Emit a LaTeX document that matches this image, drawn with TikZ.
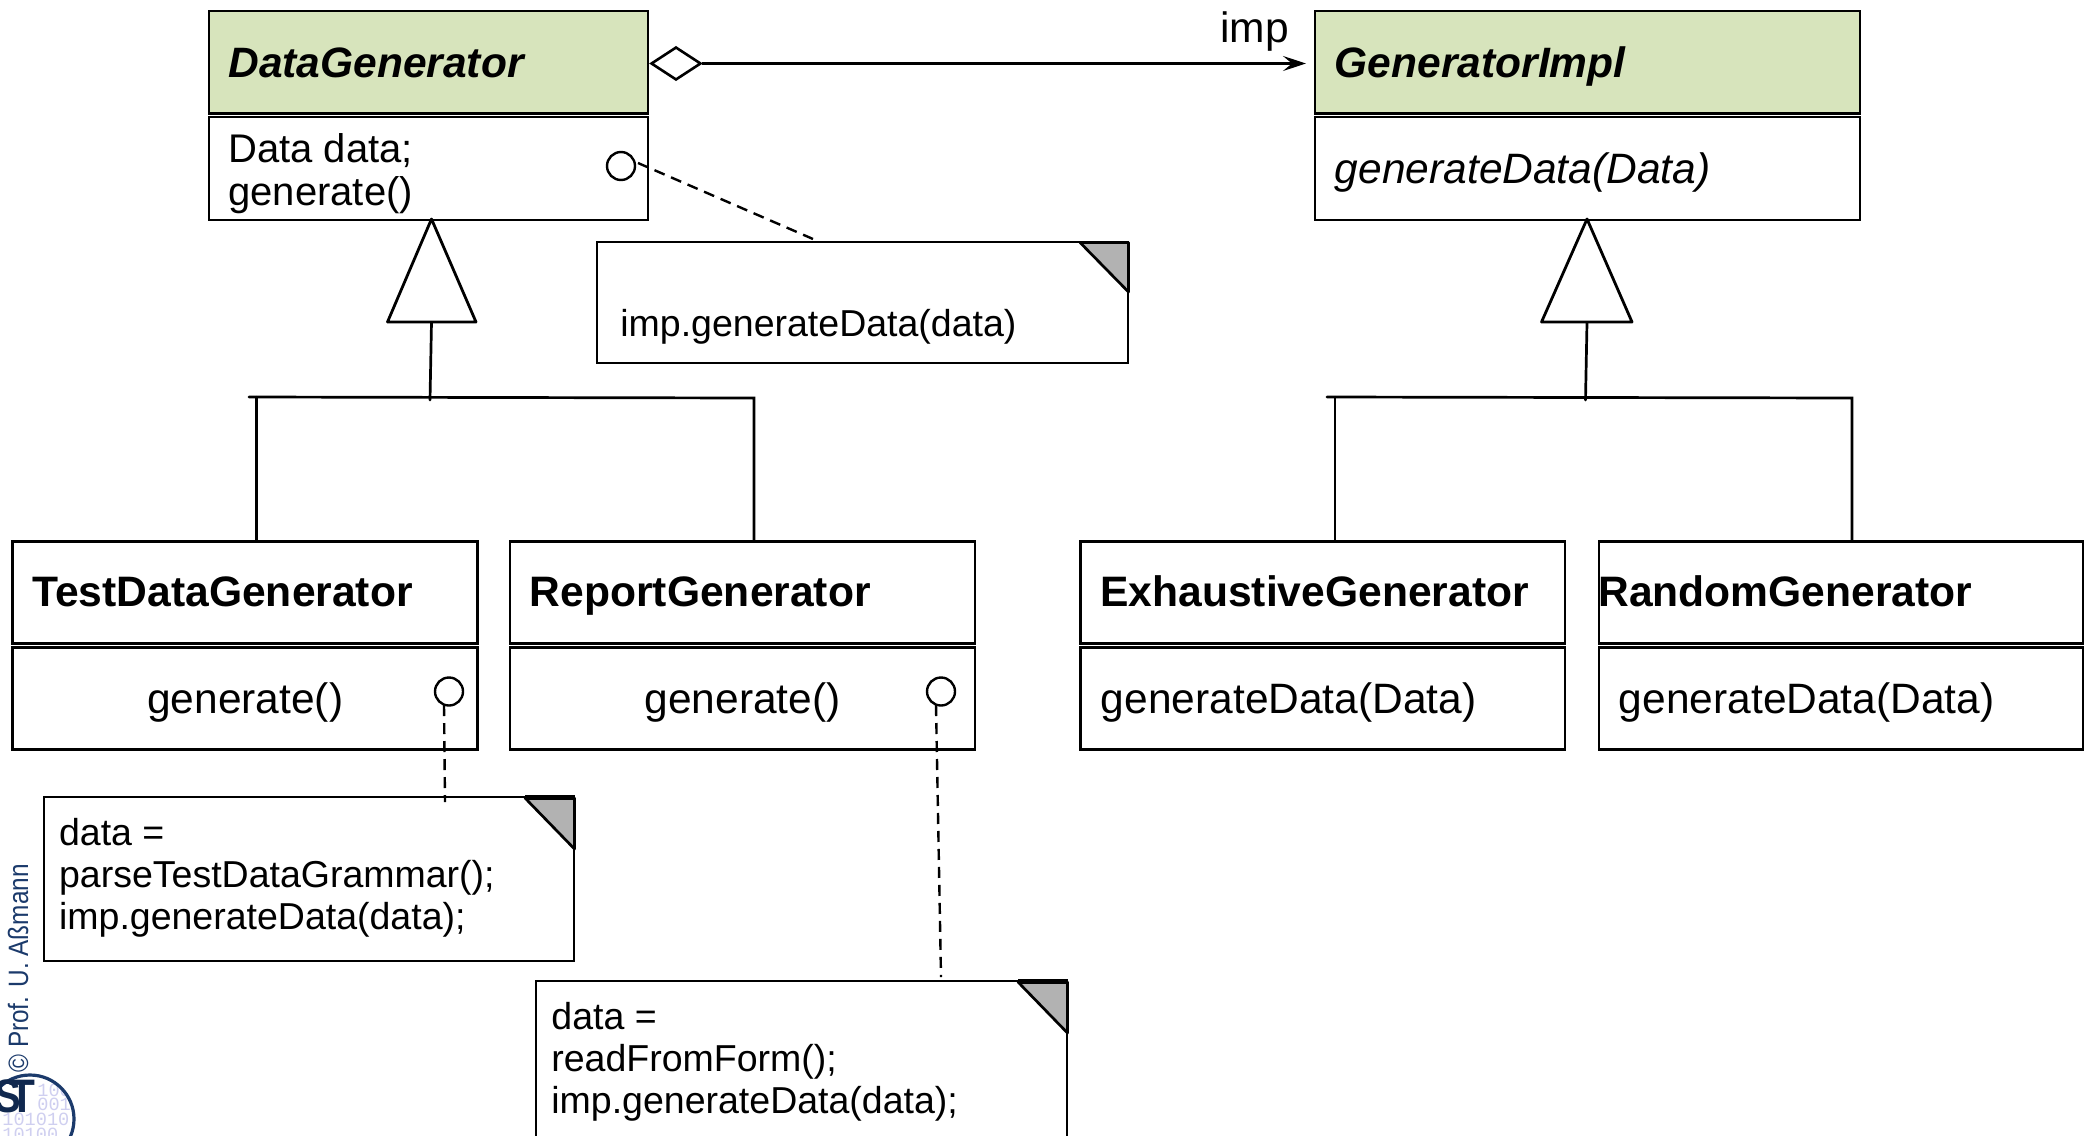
\documentclass[tikz,border=0pt]{standalone}
\usepackage{fontspec}
\usepackage{graphicx}
\setmainfont{Liberation Sans}
\newfontfamily\digitsfont{Liberation Mono}
\usetikzlibrary{shapes.geometric,arrows.meta}
\definecolor{hdrgreen}{HTML}{D7E4BC}
\definecolor{foldgrey}{HTML}{B2B2B2}
\definecolor{stblue}{HTML}{1B3A6B}
\definecolor{stdark}{HTML}{10284F}
\definecolor{stdigit}{HTML}{CFCFF0}
\tikzset{
  cbox/.style={draw=black,line width=1.35pt,fill=white,rectangle,inner sep=0pt},
  hbox/.style={cbox,fill=hdrgreen},
  notebox/.style={draw=black,line width=1.35pt,fill=white,rectangle,inner sep=0pt},
  cname/.style={anchor=base west,inner sep=0pt,font=\fontsize{21.3pt}{25pt}\selectfont\bfseries},
  cnamei/.style={cname,font=\fontsize{21.25pt}{25pt}\selectfont\bfseries\itshape},
  ctext/.style={anchor=base west,inner sep=0pt,font=\fontsize{21.25pt}{25pt}\selectfont},
  ctexti/.style={ctext,font=\fontsize{21.25pt}{25pt}\selectfont\itshape},
  ntext/.style={anchor=base west,inner sep=0pt,font=\fontsize{18.75pt}{22pt}\selectfont},
  dtext/.style={anchor=base west,inner sep=0pt,font=\fontsize{20pt}{24pt}\selectfont},
  conn/.style={line width=1.35pt,line cap=round},
  dashconn/.style={line width=1.2pt,dash pattern=on 5.5pt off 3.5pt},
  pin/.style={circle,draw=black,line width=1.2pt,fill=white,minimum size=14pt,inner sep=0pt},
  fold/.style={draw=black,line width=1.35pt,fill=foldgrey,line join=round},
  tri/.style={draw=black,line width=1.4pt,fill=white,line join=round},
  agg/.style={diamond,aspect=1.5,draw=black,line width=1.3pt,fill=white,minimum width=25pt,minimum height=16.5pt,inner sep=0pt},
  digit/.style={inner sep=0pt,anchor=base west,text=stdigit,font=\digitsfont\fontsize{9.3pt}{11pt}\selectfont}
}
\begin{document}
\begin{tikzpicture}[x=0.5pt,y=-0.5pt]
\useasboundingbox (0,0) rectangle (2091,1135);
\clip (0,0) rectangle (2091,1135);
\fill[white] (0,0) rectangle (2091,1135);

% connector junctions
\coordinate (lbarL) at (249,397);
\coordinate (lbarR) at (754,398);
\coordinate (lbarT) at (256.2,397.2);
\coordinate (lstemTop) at (431.5,322);
\coordinate (lstemBot) at (430,400);
\coordinate (ltriA) at (431.5,219);
\coordinate (ltriB) at (387.5,322);
\coordinate (ltriC) at (476,322);
\coordinate (rbarL) at (1327,397);
\coordinate (rbarR) at (1852,398);
\coordinate (rbarT) at (1335,397.2);
\coordinate (rstemTop) at (1587,322);
\coordinate (rstemBot) at (1585.5,400);
\coordinate (rtriA) at (1587,219);
\coordinate (rtriB) at (1541.5,322);
\coordinate (rtriC) at (1632,322);

% class boxes
\node[hbox,minimum width=219.5pt,minimum height=51.25pt] (dgh) at (428.5,62.3) {};
\node[cbox,minimum width=219.5pt,minimum height=51.5pt] (dgb) at (428.5,168.5) {};
\node[hbox,minimum width=272.5pt,minimum height=51.25pt] (gih) at (1587.5,62.3) {};
\node[cbox,minimum width=272.5pt,minimum height=51.5pt] (gib) at (1587.5,168.5) {};
\node[cbox,minimum width=232.5pt,minimum height=51pt] (tdh) at (244.8,592.2) {};
\node[cbox,minimum width=232.5pt,minimum height=51pt] (tdb) at (244.8,698.6) {};
\node[cbox,minimum width=232.5pt,minimum height=51pt] (rgh) at (742.5,592.2) {};
\node[cbox,minimum width=232.5pt,minimum height=51pt] (rgb) at (742.5,698.6) {};
\node[cbox,minimum width=242.2pt,minimum height=51pt] (exh) at (1322.9,592.2) {};
\node[cbox,minimum width=242.2pt,minimum height=51pt] (exb) at (1322.9,698.6) {};
\node[cbox,minimum width=242pt,minimum height=51pt] (rnh) at (1841,592.2) {};
\node[cbox,minimum width=242pt,minimum height=51pt] (rnb) at (1841,698.6) {};

% notes
\node[notebox,minimum width=265.5pt,minimum height=60.5pt] (n1) at (862.5,302.5) {};
\draw[fold] (1080,242.5) -- (1128.5,292) -- (1128.5,242.5) -- cycle;
\node[notebox,minimum width=265pt,minimum height=82pt] (n2) at (309,879) {};
\draw[fold] (525,798) -- (574.5,849) -- (574.5,798) -- cycle;
\draw[line width=2.2pt] (525,797.5) -- (574.5,797.5);
\node[notebox,minimum width=265.5pt,minimum height=97pt] (n3) at (801.5,1078) {};
\draw[fold] (1018,982) -- (1067.5,1033) -- (1067.5,982) -- cycle;
\draw[line width=2.2pt] (1018,981.5) -- (1067.5,981.5);

% generalisation
\draw[conn] (lbarL) -- (lbarR) -- (lbarR |- rgh.north);
\draw[conn] (lbarT) -- (lbarT |- tdh.north);
\draw[conn] (lstemTop) -- (lstemBot);
\draw[tri] (ltriA) -- (ltriC) -- (ltriB) -- cycle;
\draw[conn] (rbarL) -- (rbarR) -- (rbarR |- rnh.north);
\draw[conn] (rbarT) -- (rbarT |- exh.north);
\draw[conn] (rstemTop) -- (rstemBot);
\draw[tri] (rtriA) -- (rtriC) -- (rtriB) -- cycle;

% aggregation
\node[agg] (dia) at (676,63.5) {};
\coordinate (aggEnd) at (1306,63.5);
\draw[line width=1.3pt,-{Stealth[length=11.5pt,width=7.5pt,inset=4.5pt]}] (dia.east) -- (aggEnd);
\node[inner sep=0pt,anchor=base west,font=\fontsize{21.25pt}{25pt}\selectfont] (implabel) at (1220,42) {imp};

% pins and note links
\node[pin] (p1) at (621,166) {};
\coordinate (p1s) at (638,163);
\coordinate (n1t) at (813,239);
\draw[dashconn] (p1s) -- (n1t);
\node[pin] (p2) at (449,691.5) {};
\coordinate (p2s) at (444,705);
\coordinate (n2t) at (445,802);
\draw[dashconn] (p2s) -- (n2t);
\node[pin] (p3) at (941,691.5) {};
\coordinate (p3s) at (936,705);
\coordinate (n3t) at (941,977);
\draw[dashconn] (p3s) -- (n3t);

% class text
\node[cnamei] (t1) at (228,77) {DataGenerator};
\node[dtext] (t2) at (228,162) {Data data;};
\node[dtext] (t3) at (228,205.5) {generate()};
\node[cnamei] (t4) at (1334.5,77) {GeneratorImpl};
\node[ctexti] (t5) at (1334.5,183) {generateData(Data)};
\node[cname] (t6) at (32,606) {TestDataGenerator};
\node[cname] (t7) at (529.5,606) {ReportGenerator};
\node[cname] (t8) at (1100,606) {ExhaustiveGenerator};
\node[cname] (t9) at (1598,606) {RandomGenerator};
\node[ctext,anchor=base] (t10) at (245.2,713) {generate()};
\node[ctext,anchor=base] (t11) at (742.7,713) {generate()};
\node[ctext] (t12) at (1100.5,713) {generateData(Data)};
\node[ctext] (t13) at (1618.5,713) {generateData(Data)};

% note text
\node[ntext] (t14) at (620,336) {imp.generateData(data)};
\node[ntext] (t15) at (58.7,845.5) {data =};
\node[ntext] (t16) at (58.7,887.5) {parseTestDataGrammar();};
\node[ntext] (t17) at (58.7,929.5) {imp.generateData(data);};
\node[ntext] (t18) at (551,1029.5) {data =};
\node[ntext] (t19) at (551,1071.5) {readFromForm();};
\node[ntext] (t20) at (551,1113.5) {imp.generateData(data);};

% logo
\begin{scope}
\clip (30,1119) circle (44);
\node[digit] (d1) at (37,1096) {100};
\node[digit] (d2) at (37,1110) {001};
\node[digit] (d3) at (2,1125) {101010};
\node[digit] (d4) at (2,1140) {10100};
\end{scope}
\draw[stblue,line width=1.6pt] (30,1119) circle (44);
\node[rotate=90,anchor=base west,inner sep=0pt,text=stblue,font=\fontsize{14pt}{16pt}\selectfont] (copy) at (28,1073) {\scalebox{0.87}[1]{© Prof. U. Aßmann}};
\node[inner sep=0pt,anchor=base west,text=stdark,font=\fontsize{23.5pt}{26pt}\selectfont\bfseries] (stT) at (9,1112) {\scalebox{0.9}[1]{T}};
\node[inner sep=0pt,anchor=base west,text=stdark,font=\fontsize{23.5pt}{26pt}\selectfont\bfseries] (stS) at (-6,1112) {\scalebox{0.85}[1]{S}};
\end{tikzpicture}
\end{document}
